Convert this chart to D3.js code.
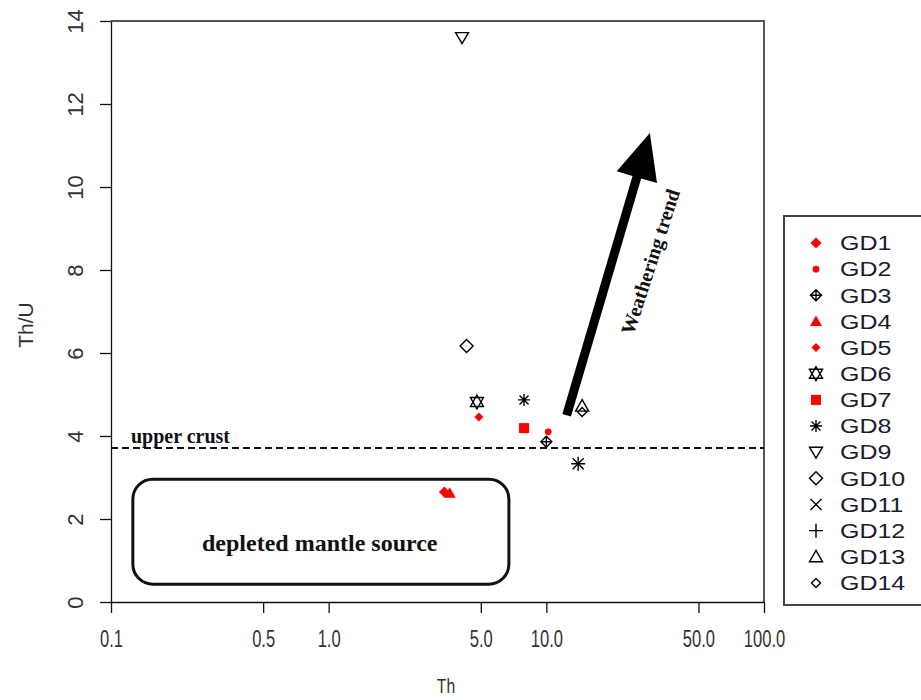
<!DOCTYPE html>
<html><head><meta charset="utf-8">
<script src="https://cdn.jsdelivr.net/npm/d3@7/dist/d3.min.js"></script>
<style>body{margin:0;background:#fff}svg{display:block}</style>
</head><body>
<svg id="chart" width="921" height="700"></svg>
<script>
// ---- data ----
const samples = ["GD1","GD2","GD3","GD4","GD5","GD6","GD7","GD8","GD9","GD10","GD11","GD12","GD13","GD14"];
const thValues =   [3.4, 10.2, 10.0, 3.6, 4.9, 4.8, 7.9, 7.9, 4.1, 4.3, 14.0, 14.0, 14.6, 14.6];
const thuValues =  [2.65, 4.10, 3.86, 2.62, 4.46, 4.82, 4.19, 4.87, 13.6, 6.17, 3.33, 3.33, 4.72, 4.58];
const symbols = ["diamondFillL","dot","diamondPlus","triFill","diamondFill","david","squareFill","asterisk","triDown","diamond","cross","plus","triUp","diamondSmall"];
const colors = ["red","red","black","red","red","black","red","black","black","black","black","black","black","black"];
const xTicks = [0.1, 0.5, 1, 5, 10, 50, 100];
const xTickLabels = ["0.1","0.5","1.0","5.0","10.0","50.0","100.0"];
const yTicks = [0, 2, 4, 6, 8, 10, 12, 14];
const upperCrust = 3.71;
const mantleBox = {x0: 0.126, x1: 6.73, y0: 0.43, y1: 2.96};
const mantleLabel = {x: 0.91, y: 1.42, text: "depleted mantle source"};
const arrowFrom = [12.4, 4.5], arrowTo = [29.9, 11.3];
const trendLabel = {x: 30.0, y: 8.2, text: "Weathering trend"};

// ---- layout ----
const svg = d3.select("#chart");
svg.append("rect").attr("width",921).attr("height",700).attr("fill","#fff");
const x = d3.scaleLog().domain([0.1, 100]).range([111, 764]);
const y = d3.scaleLinear().domain([0, 14]).range([602, 21]);

// frame (top and right)
svg.append("path").attr("d", `M${x(0.1)},${y(14)}H${x(100)}V${y(0)}`)
  .attr("fill","none").attr("stroke","#555").attr("stroke-width",2);

const sans = "'Liberation Sans', Arial, sans-serif";
const serif = "'Liberation Serif', 'Times New Roman', serif";

// x axis
const xa = svg.append("g").attr("transform",`translate(0,${y(0)})`)
  .call(d3.axisBottom(x).tickValues(xTicks).tickFormat((d,i)=>xTickLabels[i]).tickSize(11).tickSizeOuter(0));
xa.select(".domain").attr("stroke","#111").attr("stroke-width",1.3);
xa.selectAll(".tick line").attr("stroke","#111").attr("stroke-width",1.3);
xa.selectAll(".tick text").attr("y",0).attr("dy",0)
  .attr("transform","translate(0,45) scale(0.72,1)")
  .attr("font-family",sans).attr("font-size",23).attr("fill","#333");

// y axis
const ya = svg.append("g").attr("transform",`translate(${x(0.1)},0)`)
  .call(d3.axisLeft(y).tickValues(yTicks).tickSize(11).tickSizeOuter(0));
ya.select(".domain").attr("stroke","#111").attr("stroke-width",1.3);
ya.selectAll(".tick line").attr("stroke","#111").attr("stroke-width",1.3);
ya.selectAll(".tick text").attr("x",0).attr("dy",0).attr("text-anchor","middle")
  .attr("transform","translate(-28,0) rotate(-90)")
  .attr("font-family",sans).attr("font-size",22).attr("fill","#333");

// axis titles
svg.append("text").attr("text-anchor","middle")
  .attr("transform","translate(446,693) scale(0.75,1)")
  .attr("font-family",sans).attr("font-size",21).attr("fill","#333").text("Th");
svg.append("text").attr("transform","translate(33,325) rotate(-90)").attr("text-anchor","middle")
  .attr("font-family",sans).attr("font-size",21).attr("fill","#333").text("Th/U");

// upper crust line
svg.append("line").attr("x1",x(0.1)).attr("x2",x(100)).attr("y1",y(upperCrust)).attr("y2",y(upperCrust))
  .attr("stroke","#111").attr("stroke-width",2).attr("stroke-dasharray","7,4");
svg.append("text").attr("x",x(0.1235)).attr("y",y(upperCrust)-5)
  .attr("font-family",serif).attr("font-weight","bold")
  .attr("font-size",20).attr("fill","#111").text("upper crust");

// depleted mantle box
svg.append("rect").attr("x",x(mantleBox.x0)).attr("y",y(mantleBox.y1))
  .attr("width",x(mantleBox.x1)-x(mantleBox.x0)).attr("height",y(mantleBox.y0)-y(mantleBox.y1))
  .attr("rx",20).attr("ry",20).attr("fill","none").attr("stroke","#111").attr("stroke-width",3);
svg.append("text").attr("x",x(mantleLabel.x)).attr("y",y(mantleLabel.y)).attr("dy","0.35em").attr("text-anchor","middle")
  .attr("font-family",serif).attr("font-weight","bold")
  .attr("font-size",24).attr("fill","#111").text(mantleLabel.text);

// weathering arrow
(function(){
  const x0 = x(arrowFrom[0]), y0 = y(arrowFrom[1]), x1 = x(arrowTo[0]), y1 = y(arrowTo[1]);
  const dx = x1-x0, dy = y1-y0, L = Math.hypot(dx,dy), ux = dx/L, uy = dy/L, px = -uy, py = ux;
  const head = 46, hw = 21, sw = 4.5;
  const bx = x1 - ux*head, by = y1 - uy*head;
  const pts = [
    [x0+px*sw, y0+py*sw],[bx+px*sw, by+py*sw],[bx+px*hw, by+py*hw],[x1,y1],
    [bx-px*hw, by-py*hw],[bx-px*sw, by-py*sw],[x0-px*sw, y0-py*sw]];
  svg.append("polygon").attr("points", pts.map(p=>p.join(",")).join(" ")).attr("fill","#000");
  const ang = Math.atan2(dy,dx)*180/Math.PI;
  svg.append("text").attr("transform",`translate(${x(trendLabel.x)},${y(trendLabel.y)}) rotate(${ang+1.5})`)
    .attr("text-anchor","middle").attr("dy","0.35em")
    .attr("font-family",serif).attr("font-weight","bold")
    .attr("font-size",20).attr("fill","#111").text(trendLabel.text);
})();

// symbol drawing
function drawSymbol(g, type, color){
  const s = g.append("g");
  const st = (p)=>p.attr("fill","none").attr("stroke",color).attr("stroke-width",1.4);
  const fl = (p)=>p.attr("fill",color).attr("stroke","none");
  switch(type){
    case "diamondFillL": fl(s.append("path").attr("d","M0,-5.5L5.5,0L0,5.5L-5.5,0Z")); break;
    case "diamondFill": fl(s.append("path").attr("d","M0,-4.5L4.5,0L0,4.5L-4.5,0Z")); break;
    case "dot": fl(s.append("circle").attr("r",3.4)); break;
    case "diamondPlus": st(s.append("path").attr("d","M0,-5.5L5.5,0L0,5.5L-5.5,0ZM-5.5,0H5.5M0,-5.5V5.5")); break;
    case "triFill": fl(s.append("path").attr("d","M0,-6L6,4.5H-6Z")); break;
    case "david": st(s.append("path").attr("d","M0,-7L6.5,4.5H-6.5ZM0,7L6.5,-4.5H-6.5Z")); break;
    case "squareFill": fl(s.append("rect").attr("x",-5).attr("y",-5).attr("width",10).attr("height",10)); break;
    case "asterisk": st(s.append("path").attr("d","M-6,0H6M0,-6V6M-4.5,-4.5L4.5,4.5M-4.5,4.5L4.5,-4.5")); break;
    case "triDown": st(s.append("path").attr("d","M0,6L6.5,-5H-6.5Z")); break;
    case "diamond": st(s.append("path").attr("d","M0,-6.5L6.5,0L0,6.5L-6.5,0Z")); break;
    case "cross": st(s.append("path").attr("d","M-5.5,-5.5L5.5,5.5M-5.5,5.5L5.5,-5.5")); break;
    case "plus": st(s.append("path").attr("d","M-7,0H7M0,-7V7")); break;
    case "triUp": st(s.append("path").attr("d","M0,-6.5L6.5,5H-6.5Z")); break;
    case "diamondSmall": st(s.append("path").attr("d","M0,-4.5L4.5,0L0,4.5L-4.5,0Z")); break;
  }
  return s;
}

// points
samples.forEach((name,i)=>{
  const g = svg.append("g").attr("transform",`translate(${x(thValues[i])},${y(thuValues[i])})`);
  drawSymbol(g, symbols[i], colors[i]);
});

// legend
const lg = svg.append("g");
lg.append("rect").attr("x",784).attr("y",216).attr("width",150).attr("height",389)
  .attr("fill","#fff").attr("stroke","#444").attr("stroke-width",2);
samples.forEach((name,i)=>{
  const yy = 243 + i*26.15;
  const g = lg.append("g").attr("transform",`translate(816,${yy})`);
  drawSymbol(g, symbols[i], colors[i]);
  lg.append("text").attr("transform",`translate(840,${yy}) scale(1.25,1)`).attr("dy","0.36em")
    .attr("font-family",sans).attr("font-size",20).attr("fill","#1c1c30").text(name);
});
</script>
</body></html>
